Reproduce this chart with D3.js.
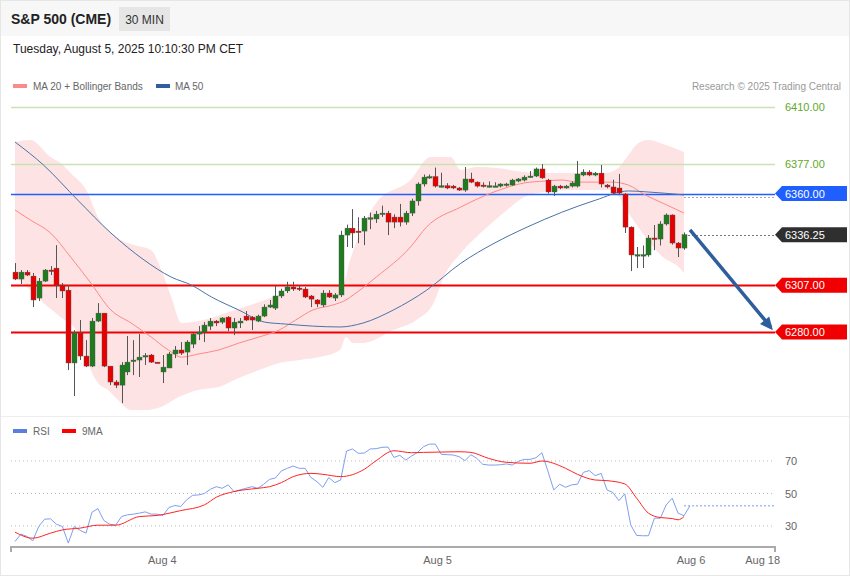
<!DOCTYPE html>
<html><head><meta charset="utf-8">
<script src="https://cdn.jsdelivr.net/npm/d3@7"></script>
<style>body{margin:0;background:#fff;font-family:"Liberation Sans",Arial,sans-serif}</style>
</head><body><svg id="c" width="850" height="576" font-family="Liberation Sans, Arial, sans-serif"></svg>
<script>
// candles [open, close, high, low]
const candles=[
[6314.6,6310.6,6319.8,6310.0],[6310.6,6314.6,6315.8,6307.7],[6314.6,6312.9,6315.8,6312.3],[6312.3,6298.5,6314.1,6294.4],
[6299.6,6309.4,6311.2,6297.9],[6309.4,6315.8,6316.4,6308.9],[6315.8,6315.5,6318.1,6312.9],[6316.9,6307.1,6330.2,6299.6],
[6307.1,6303.7,6308.3,6299.6],[6304.2,6262.1,6307.1,6258.0],[6262.1,6279.4,6281.1,6243.0],[6279.4,6266.1,6286.9,6263.8],
[6266.1,6260.3,6275.3,6259.7],[6260.3,6286.3,6288.1,6259.7],[6286.3,6290.9,6296.7,6285.7],[6290.9,6260.3,6290.9,6259.7],
[6260.3,6251.1,6260.3,6249.3],[6251.1,6249.3,6252.2,6247.6],[6249.3,6260.9,6262.6,6238.9],[6256.9,6262.6,6277.7,6255.1],
[6263.5,6263.8,6275.3,6255.1],[6263.8,6265.5,6278.8,6254.0],[6266.1,6266.4,6267.8,6260.9],[6266.7,6262.6,6267.3,6262.1],
[6262.6,6262.3,6262.6,6262.1],[6256.9,6259.7,6266.7,6250.5],[6259.2,6267.3,6268.4,6259.2],[6267.3,6269.6,6271.9,6264.9],
[6269.6,6267.8,6274.2,6266.7],[6268.4,6274.2,6275.3,6260.9],[6273.0,6278.8,6279.4,6270.7],[6278.8,6280.0,6283.4,6275.3],
[6280.0,6284.0,6285.7,6274.2],[6283.4,6286.3,6288.1,6281.1],[6286.3,6285.2,6286.9,6283.4],[6285.7,6288.1,6288.6,6284.6],
[6288.6,6282.3,6289.2,6280.5],[6282.3,6285.7,6288.1,6278.2],[6285.2,6286.3,6288.1,6282.3],[6289.2,6286.9,6292.1,6286.3],
[6288.6,6286.9,6289.2,6281.1],[6286.3,6289.2,6290.0,6285.7],[6289.2,6294.4,6296.0,6288.6],[6294.4,6295.6,6298.5,6293.8],
[6293.8,6300.8,6306.5,6292.7],[6300.8,6303.7,6305.0,6299.6],[6303.7,6306.0,6309.0,6302.5],[6306.0,6304.8,6309.0,6303.7],
[6305.4,6305.2,6307.1,6303.7],[6304.8,6300.2,6306.0,6299.6],[6300.8,6299.0,6301.4,6294.4],[6298.5,6296.2,6299.0,6294.4],
[6295.6,6302.5,6304.2,6294.4],[6302.5,6300.2,6304.2,6299.6],[6299.6,6301.4,6302.5,6297.9],[6301.4,6336.0,6338.5,6300.2],
[6336.0,6340.0,6342.0,6329.1],[6340.0,6337.2,6351.0,6328.5],[6338.3,6337.7,6346.3,6331.3],[6338.3,6345.8,6347.0,6330.2],
[6345.8,6346.0,6349.0,6339.4],[6345.3,6348.1,6350.0,6343.0],[6348.5,6348.7,6353.0,6346.5],[6348.7,6343.5,6350.0,6336.0],
[6346.4,6343.5,6348.0,6340.0],[6346.4,6343.5,6354.0,6341.0],[6343.5,6348.7,6350.0,6342.0],[6348.7,6355.7,6357.0,6347.0],
[6355.7,6365.5,6366.5,6353.0],[6365.5,6369.5,6371.0,6364.0],[6369.5,6369.8,6371.0,6368.5],[6369.8,6364.3,6375.0,6363.5],
[6364.3,6364.5,6372.0,6363.5],[6364.5,6363.2,6366.0,6362.5],[6364.3,6363.2,6365.0,6362.5],[6363.2,6362.0,6363.8,6361.5],
[6362.0,6368.4,6375.3,6361.0],[6368.4,6366.6,6372.0,6366.0],[6366.6,6364.3,6367.0,6363.5],[6364.9,6364.7,6366.5,6363.5],
[6364.3,6364.5,6367.0,6363.5],[6364.3,6364.4,6366.5,6363.8],[6364.3,6365.5,6366.0,6363.5],[6364.9,6365.5,6366.2,6364.0],
[6364.9,6367.8,6368.5,6364.5],[6367.2,6368.4,6369.0,6366.5],[6367.8,6369.5,6370.5,6367.0],[6369.5,6370.1,6373.0,6369.0],
[6370.1,6374.2,6375.0,6369.5],[6374.2,6369.0,6377.0,6368.5],[6367.8,6360.9,6368.5,6360.0],[6360.9,6364.3,6365.0,6358.6],
[6364.3,6363.2,6365.0,6362.5],[6363.2,6364.3,6365.0,6362.8],[6364.3,6366.1,6367.0,6363.5],[6364.3,6371.3,6378.8,6363.5],
[6370.7,6372.4,6374.0,6370.0],[6372.4,6370.7,6373.5,6370.0],[6370.7,6371.8,6372.5,6370.0],[6371.8,6365.5,6376.5,6363.5],
[6364.9,6363.8,6365.5,6363.0],[6363.8,6360.3,6368.0,6359.5],[6363.2,6360.3,6371.3,6359.5],[6359.7,6340.6,6360.3,6337.2],
[6340.6,6324.5,6341.0,6315.2],[6324.5,6324.7,6329.1,6316.9],[6324.5,6324.7,6330.0,6317.0],[6324.5,6334.3,6336.0,6323.5],
[6334.3,6333.7,6341.8,6327.3],[6333.7,6342.4,6344.0,6330.0],[6342.4,6347.6,6348.5,6341.5],[6347.6,6331.4,6348.0,6330.5],
[6331.4,6328.5,6332.0,6323.3],[6328.5,6336.25,6337.5,6327.5]];
// [candle index, value]
const upperBand=[[0,6389.8],[2.6,6390.9],[6,6381.1],[7.7,6377.6],[9.4,6371.8],[12.3,6360.3],[14,6346.4],[15.7,6338.9],[17.9,6333.1],[20.1,6330.2],[23,6327.3],[24.7,6315.8],[26.4,6300.2],[28.1,6285.2],[29.8,6285.7],[33.2,6288.1],[36.1,6291.5],[38.8,6294.4],[42.2,6298.5],[45.7,6302.5],[49.1,6305.4],[52.5,6306.0],[55.4,6307.7],[56.6,6321.6],[61,6354.5],[66.8,6367.8],[70.2,6381.1],[73.6,6381.1],[75.3,6373.6],[78,6375.3],[81.4,6374.7],[86,6372.4],[89.4,6371.8],[95.1,6371.8],[99.7,6371.8],[101.9,6374.7],[103.6,6382.2],[105.3,6389.2],[107,6390.9],[109.9,6388.0],[113,6384.0]];
const lowerBand=[[0,6311.7],[2.6,6304.2],[4.8,6296.7],[7.7,6288.6],[10.6,6279.4],[12.3,6262.1],[14,6250.5],[15.7,6246.5],[17.4,6240.7],[19.6,6234.9],[21.8,6234.9],[24.7,6236.7],[27.6,6242.4],[31,6246.5],[34.4,6248.2],[37.8,6253.4],[41.2,6258.0],[44.6,6262.1],[48,6263.8],[51.4,6265.5],[54.9,6269.6],[55.9,6277.1],[57.1,6273.6],[58.8,6273.6],[63.9,6281.1],[67.8,6286.9],[70.7,6296.7],[72.4,6311.7],[75.3,6325.6],[79.2,6338.9],[83.1,6350.5],[86,6358.0],[89.4,6360.9],[95.1,6362.0],[100.9,6362.0],[103.6,6348.7],[106.5,6334.9],[109.4,6323.3],[112.1,6317.5],[113,6314.1]];
const ma20=[[0,6350.5],[2.6,6344.7],[6,6337.2],[9.4,6323.3],[12.8,6308.3],[16.2,6292.7],[19.6,6285.2],[23,6277.1],[25.9,6269.6],[28.1,6265.5],[31,6267.3],[34.4,6269.6],[37.8,6273.6],[41.2,6277.1],[44.6,6281.1],[47.4,6286.9],[50.3,6292.7],[53.7,6295.6],[55.9,6298.5],[57.1,6301.3],[61,6311.7],[66.8,6329.1],[69.5,6340.6],[75.3,6352.2],[80.9,6360.9],[86,6366.1],[89.4,6367.2],[92.3,6367.8],[95.1,6366.6],[100.9,6366.6],[103.6,6364.9],[106.5,6359.1],[109.4,6354.5],[113,6348.7]];
const ma50=[[0,6389.8],[4.8,6376.5],[10.6,6356.2],[16.2,6337.2],[21.8,6321.6],[26.4,6311.7],[29.8,6307.1],[33.2,6300.2],[37.8,6292.7],[42.2,6285.7],[45.7,6284.6],[50.3,6283.4],[54.9,6282.9],[58.8,6285.2],[63.9,6292.7],[69.5,6304.1],[75.3,6319.7],[80.9,6331.2],[86.5,6340.6],[92.3,6349.1],[98,6356.1],[103.6,6361.5],[106.5,6361.0],[113,6359.2]];
const rsi=[20.5,25.0,23.6,20.9,29.7,34.2,34.4,31.1,29.7,19.5,29.7,27.3,25.6,38.5,40.7,33.4,31.1,30.5,35.8,36.9,37.3,37.9,38.7,37.3,37.3,36.5,41.4,42.6,42.0,46.1,48.9,49.1,50.0,52.6,54.2,53.2,55.3,51.2,52.2,53.2,54.2,53.2,55.7,58.7,59.6,63.9,65.5,66.9,65.5,65.5,59.8,57.3,53.8,59.8,56.7,58.3,76.1,77.4,74.7,74.9,77.4,77.6,78.4,78.6,72.2,73.5,70.6,73.1,75.3,78.8,
80.4,80.4,74.1,73.9,73.7,72.7,70.2,73.9,71.6,68.0,67.5,67.5,67.7,68.2,67.5,69.8,71.0,71.0,72.0,75.1,63.9,52.2,55.7,53.8,55.3,55.7,63.0,64.1,61.0,62.4,52.2,50.6,45.6,49.8,30.7,24.2,24.0,24.0,34.8,34.8,43.0,47.1,37.9,36.3,42.4];
const rsiMA=[[0,26.2],[3,22.5],[6,25.6],[8,27.6],[11,28.7],[14,30.5],[17,30.5],[21,35.8],[24,36.5],[28,39.5],[32,43.0],[34,47.7],[37,51.2],[41,53.2],[43,54.2],[45,56.7],[47,60.4],[50,62.4],[52,61.8],[55,60.4],[59,64.9],[61,70.2],[64,76.3],[67,75.1],[69,75.3],[72,75.5],[75,75.7],[77,75.3],[80,71.6],[83,69.2],[87,68.6],[89,70.0],[93,65.5],[95,61.8],[98,58.3],[100,57.9],[103,55.9],[105,47.1],[107,37.9],[109,35.2],[111,34.6],[112,33.8],[113,35.8]];
const priceLevels=[{v:6410,c:"#c9e2b4",t:"text"},{v:6377,c:"#c9e2b4",t:"text"},{v:6360,c:"#1f5fff",t:"box"},{v:6336.25,c:"#333",t:"dash"},{v:6307,c:"#f00000",t:"box"},{v:6280,c:"#f00000",t:"box"}];
const rsiLevels=[70,50,30];
const xTickLabels=["Aug 4","Aug 5","Aug 6","Aug 18"];
const xTickIdx=[24.8,71.3,114.1,126.2];
const arrowPts=[[113,6339],[127,6281]];

const svg=d3.select("#c");
const x=d3.scaleLinear().domain([0,113]).range([15,684]);
const y=d3.scaleLinear().domain([6280,6410]).range([332,107]);
const yr=d3.scaleLinear().domain([30,70]).range([526,461]);
const X0=11,X1=775;

svg.append("rect").attr("x",0.5).attr("y",0.5).attr("width",849).attr("height",575).attr("fill","#fff").attr("stroke","#e6e6e6");
svg.append("rect").attr("x",1).attr("y",1).attr("width",848).attr("height",35).attr("fill","#f7f7f7");
svg.append("text").attr("x",11).attr("y",24).attr("font-size",14).attr("font-weight","bold").attr("fill","#222").text("S&P 500 (CME)");
svg.append("rect").attr("x",119).attr("y",7).attr("width",51).attr("height",24).attr("fill","#e6e6e6");
svg.append("text").attr("x",144.5).attr("y",24).attr("text-anchor","middle").attr("font-size",12).attr("fill","#333").text("30 MIN");
svg.append("text").attr("x",13).attr("y",53).attr("font-size",12).attr("fill","#222").text("Tuesday, August 5, 2025 10:10:30 PM CET");
svg.append("rect").attr("x",13).attr("y",84).attr("width",14).attr("height",4).attr("fill","#f98b8b");
svg.append("text").attr("x",33).attr("y",90).attr("font-size",10).attr("fill","#666").text("MA 20 + Bollinger Bands");
svg.append("rect").attr("x",156).attr("y",84).attr("width",14).attr("height",4).attr("fill","#2f5f9e");
svg.append("text").attr("x",175).attr("y",90).attr("font-size",10).attr("fill","#666").text("MA 50");
svg.append("text").attr("x",841).attr("y",90).attr("text-anchor","end").attr("font-size",10).attr("fill","#999").text("Research © 2025 Trading Central");
svg.append("line").attr("x1",1).attr("x2",849).attr("y1",416.5).attr("y2",416.5).attr("stroke","#eee");

const up=d3.line().x(d=>x(d[0])).y(d=>y(d[1])).curve(d3.curveMonotoneX);
const upPath=up(upperBand), loPath=up(lowerBand.slice().reverse());
svg.append("path").attr("d",upPath+"L"+loPath.slice(1)+"Z").attr("fill","#fde3e3");

priceLevels.forEach(L=>{
  const yy=y(L.v), yc=Math.round(yy)+0.5;
  if(L.t==="dash"){
    svg.append("line").attr("x1",x(113)+4).attr("x2",X1).attr("y1",yc).attr("y2",yc).attr("stroke","#777").attr("stroke-dasharray","2,2");
  } else {
    svg.append("line").attr("x1",X0).attr("x2",X1).attr("y1",yc).attr("y2",yc).attr("stroke",L.c).attr("stroke-width",L.c==="#f00000"?2:(L.t==="text"?1.5:1.3));
  }
  const lbl=L.v.toFixed(2);
  if(L.t==="text"){
    svg.append("text").attr("x",785).attr("y",yy+4).attr("font-size",11).attr("fill","#5fa82a").text(lbl);
  } else {
    const col=L.t==="dash"?"#2f2f2f":L.c;
    svg.append("path").attr("d",`M775,${yy}L782,${yy-7.5}H847V${yy+7.5}H782Z`).attr("fill",col);
    svg.append("text").attr("x",785).attr("y",yy+4).attr("font-size",11).attr("fill","#fff").text(lbl);
  }
});
svg.append("line").attr("x1",x(113)).attr("x2",X1).attr("y1",Math.round(y(6360))+3.5).attr("y2",Math.round(y(6360))+3.5).attr("stroke","#aaa").attr("stroke-dasharray","2,2");

svg.append("path").attr("d",up(ma20)).attr("fill","none").attr("stroke","#f88").attr("stroke-width",1);
svg.append("path").attr("d",up(ma50)).attr("fill","none").attr("stroke","#4a72a8").attr("stroke-width",1);

const g=svg.append("g");
candles.forEach((c,i)=>{
  const [o,cl,h,l]=c, cx=Math.round(x(i))+0.5, isUp=cl>=o;
  g.append("line").attr("x1",cx).attr("x2",cx).attr("y1",y(h)).attr("y2",y(l)).attr("stroke","#555");
  const top=y(Math.max(o,cl)), bh=Math.max(1.5,Math.abs(y(o)-y(cl)));
  g.append("rect").attr("x",cx-2.5).attr("y",top).attr("width",5).attr("height",bh).attr("fill",isUp?"#1e7b1e":"#e60000").attr("stroke","#555").attr("stroke-width",0.4);
});

const ax1=x(arrowPts[0][0])+6, ay1=y(arrowPts[0][1]), ax2=x(arrowPts[1][0])+6, ay2=y(arrowPts[1][1]);
svg.append("line").attr("x1",ax1).attr("y1",ay1).attr("x2",ax2-2).attr("y2",ay2-3).attr("stroke","#2e5e9c").attr("stroke-width",3.5);
const ang=Math.atan2(ay2-ay1,ax2-ax1);
const hl=13, hw=6;
const bx=ax2-hl*Math.cos(ang), by=ay2-hl*Math.sin(ang);
svg.append("path").attr("d",`M${ax2},${ay2}L${bx-hw*Math.sin(ang)},${by+hw*Math.cos(ang)}L${bx+hw*Math.sin(ang)},${by-hw*Math.cos(ang)}Z`).attr("fill","#2e5e9c");

svg.append("rect").attr("x",13).attr("y",429).attr("width",14).attr("height",4).attr("fill","#5b7fe0");
svg.append("text").attr("x",33).attr("y",435).attr("font-size",10).attr("fill","#666").text("RSI");
svg.append("rect").attr("x",62).attr("y",429).attr("width",14).attr("height",4).attr("fill","#f00");
svg.append("text").attr("x",82).attr("y",435).attr("font-size",10).attr("fill","#666").text("9MA");
rsiLevels.forEach(v=>{
  svg.append("line").attr("x1",X0).attr("x2",X1).attr("y1",yr(v)).attr("y2",yr(v)).attr("stroke","#bbb").attr("stroke-dasharray","1,3");
  svg.append("text").attr("x",785).attr("y",yr(v)+4).attr("font-size",11).attr("fill","#666").text(v);
});
svg.append("line").attr("x1",x(113)).attr("x2",X1).attr("y1",yr(rsi[rsi.length-1])).attr("y2",yr(rsi[rsi.length-1])).attr("stroke","#7f9ef0").attr("stroke-dasharray","2,2");
svg.append("path").attr("d",d3.line().x((d,i)=>x(i)).y(d=>yr(d))(rsi)).attr("fill","none").attr("stroke","#7f9ef0").attr("stroke-width",1);
svg.append("path").attr("d",d3.line().x(d=>x(d[0])).y(d=>yr(d[1])).curve(d3.curveMonotoneX)(rsiMA)).attr("fill","none").attr("stroke","#f22").attr("stroke-width",1);

const xa=d3.axisBottom(x).tickValues(xTickIdx).tickFormat((d,i)=>xTickLabels[i]).tickSize(0).tickPadding(9);
const ag=svg.append("g").attr("transform","translate(0,547)").call(xa);
ag.select(".domain").remove();
ag.selectAll("text").attr("font-size",11).attr("fill","#666").attr("font-family","Liberation Sans, Arial, sans-serif");
svg.append("path").attr("d",`M${X0},552V547H${X1}V552`).attr("fill","none").attr("stroke","#aaa").attr("stroke-width",2);
</script></body></html>
